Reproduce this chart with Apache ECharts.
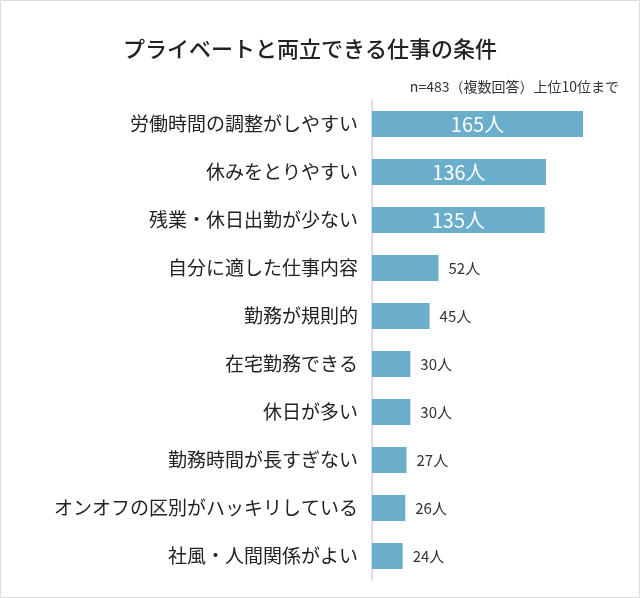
<!DOCTYPE html>
<html>
<head>
<meta charset="utf-8">
<script src="https://cdn.jsdelivr.net/npm/echarts@6/dist/echarts.min.js"></script>
<style>
html,body{margin:0;padding:0;background:#fff;}
#chart{width:640px;height:598px;}
</style>
</head>
<body>
<div id="chart"></div>
<script>
const titleText = 'プライベートと両立できる仕事の条件';
const noteText = 'n=483（複数回答）上位10位まで';
const categories = ['労働時間の調整がしやすい','休みをとりやすい','残業・休日出勤が少ない','自分に適した仕事内容','勤務が規則的','在宅勤務できる','休日が多い','勤務時間が長すぎない','オンオフの区別がハッキリしている','社風・人間関係がよい'];
const values = [165,136,135,52,45,30,30,27,26,24];
const unit = '人';

const FONT = '"Noto Sans CJK JP", "Noto Sans", sans-serif';
const chart = echarts.init(document.getElementById('chart'));
const data = values.map(v => ({
  value: v,
  label: v > 100
    ? {position: 'inside', color: '#fff', fontSize: 20}
    : {position: 'right', color: '#333', fontSize: 15, distance: 10}
}));
chart.setOption({
  backgroundColor: '#fff',
  animation: false,
  textStyle: {fontFamily: FONT},
  title: [
    {text: titleText, left: 118, top: 33, textStyle: {fontSize: 22, fontWeight: 500, color: '#222', fontFamily: FONT}},
    {text: noteText, right: 16, top: 75, textStyle: {fontSize: 14, fontWeight: 'normal', color: '#333', fontFamily: FONT}}
  ],
  graphic: [{type: 'rect', shape: {x: 0.5, y: 0.5, width: 639, height: 597}, style: {fill: 'none', stroke: '#dcdcdc', lineWidth: 1}, silent: true}],
  grid: {left: 372, top: 100, height: 480, width: 255.8},
  xAxis: {type: 'value', min: 0, max: 200, show: false},
  yAxis: {
    type: 'category', data: categories, inverse: true,
    axisLine: {lineStyle: {color: '#dedede', width: 2}},
    axisTick: {show: false},
    axisLabel: {fontSize: 19, color: '#222', margin: 14, fontFamily: FONT}
  },
  series: [{
    type: 'bar', data: data, barWidth: 26,
    itemStyle: {color: '#6aaecb'},
    label: {show: true, formatter: p => p.value + unit, fontFamily: FONT}
  }]
});
</script>
</body>
</html>
